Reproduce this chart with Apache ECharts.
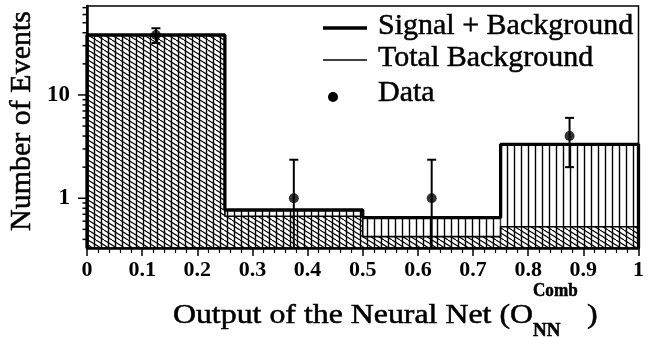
<!DOCTYPE html>
<html>
<head>
<meta charset="utf-8">
<script src="https://cdn.jsdelivr.net/npm/echarts@6/dist/echarts.min.js"></script>
<style>
  html, body { margin: 0; padding: 0; background: #fff; }
  #chart { width: 647px; height: 337px; }
</style>
</head>
<body>
<div id="chart"></div>
<script>
// Histogram bins of the network output
const binEdges = [0, 0.25, 0.5, 0.75, 1];
const signalPlusBackground = [38.1, 0.77, 0.65, 3.33];
const totalBackground = [37.4, 0.67, 0.425, 0.53];

// Observed events with their error bars
const dataX = [0.125, 0.375, 0.625, 0.875];
const dataY = [38, 1, 1, 4];
const errDown = [6.2, 1, 1, 2];
const errUp = [6.2, 1.36, 1.36, 2];

// Y axis range and tick values
const yMin = 0.33;
const yMax = 72.6;
const yLabelValues = [1, 10];
const yMinorTicks = [0.4, 0.5, 0.6, 0.7, 0.8, 0.9, 2, 3, 4, 5, 6, 7, 8, 9, 20, 30, 40, 50, 60, 70];

const SERIF = '"Liberation Serif", "Times New Roman", serif';

// Hatch fills: vertical lines for signal+background, slanted lines for background
function makeHatch(kind) {
  const c = document.createElement('canvas');
  const ctx = c.getContext('2d');
  ctx.strokeStyle = '#000';
  if (kind === 'vertical') {
    c.width = 7; c.height = 8;
    ctx.lineWidth = 1.4;
    ctx.beginPath();
    ctx.moveTo(3.5, 0); ctx.lineTo(3.5, 8);
    ctx.stroke();
  } else {
    c.width = 16; c.height = 10;
    ctx.lineWidth = 1.1;
    ctx.beginPath();
    for (let k = -3; k <= 3; k++) {
      ctx.moveTo(k * 8, 0);
      ctx.lineTo(k * 8 + 16, 10);
    }
    ctx.stroke();
  }
  return { image: c, repeat: 'repeat' };
}
const verticalHatch = makeHatch('vertical');
const slantHatch = makeHatch('slant');

function binData(values) {
  return values.map((v, i) => [binEdges[i], binEdges[i + 1], v]);
}
function stepOutline(values) {
  const pts = [[binEdges[0], yMin]];
  values.forEach((v, i) => {
    pts.push([binEdges[i], v]);
    pts.push([binEdges[i + 1], v]);
  });
  pts.push([binEdges[binEdges.length - 1], yMin]);
  return pts;
}
function hatchSeries(values, pattern) {
  return {
    type: 'custom',
    z: 1,
    clip: false,
    encode: { x: [0, 1], y: 2 },
    data: binData(values),
    renderItem: function (params, api) {
      const p0 = api.coord([api.value(0), yMin]);
      const p1 = api.coord([api.value(1), api.value(2)]);
      return {
        type: 'rect',
        shape: { x: p0[0], y: p1[1], width: p1[0] - p0[0], height: p0[1] - p1[1] },
        style: { fill: pattern, stroke: null }
      };
    }
  };
}
function label(text, x, y, font, extra) {
  return Object.assign({
    type: 'text', x: x, y: y, z: 10,
    style: { text: text, font: font, fill: '#000', stroke: '#000', lineWidth: 0.5, align: 'left', verticalAlign: 'middle' }
  }, extra || {});
}

const chart = echarts.init(document.getElementById('chart'), null, { renderer: 'canvas' });

const option = {
  animation: false,
  backgroundColor: '#fff',
  grid: {
    left: 87, right: 3, top: 6, bottom: 89,
    show: true, borderColor: '#000', borderWidth: 1.5, backgroundColor: 'transparent'
  },
  xAxis: {
    type: 'value',
    min: 0, max: 1, interval: 0.1,
    axisLine: { lineStyle: { color: '#000', width: 2.5 } },
    axisTick: { length: 8, lineStyle: { color: '#000', width: 1.5 } },
    minorTick: { show: true, splitNumber: 5, length: 5, lineStyle: { color: '#000', width: 1.2 } },
    splitLine: { show: false },
    axisLabel: { color: '#000', fontFamily: SERIF, fontWeight: 'bold', fontSize: 22, margin: 11 }
  },
  yAxis: {
    type: 'log', logBase: 10,
    min: yMin, max: yMax,
    axisLine: { lineStyle: { color: '#000', width: 2.5 } },
    axisTick: { show: false },
    splitLine: { show: false },
    axisLabel: {
      color: '#000', fontFamily: SERIF, fontWeight: 'bold', fontSize: 23, margin: 17,
      showMinLabel: false, showMaxLabel: false,
      formatter: function (v) {
        const hit = yLabelValues.find(t => Math.abs(v - t) / t < 1e-6);
        return hit !== undefined ? String(hit) : '';
      }
    }
  },
  series: [
    hatchSeries(signalPlusBackground, verticalHatch),
    hatchSeries(totalBackground, slantHatch),
    {
      name: 'Total Background',
      type: 'line', z: 3, clip: false, symbol: 'none',
      data: stepOutline(totalBackground),
      lineStyle: { color: '#000', width: 1.6 }
    },
    {
      name: 'Signal + Background',
      type: 'line', z: 3, clip: false, symbol: 'none',
      data: stepOutline(signalPlusBackground),
      lineStyle: { color: '#000', width: 3.3 }
    },
    {
      // y-axis ticks at decades and their subdivisions
      type: 'custom', z: 3, clip: false,
      encode: { x: 0, y: 1 },
      data: yLabelValues.map(v => [0, v, 9]).concat(yMinorTicks.map(v => [0, v, 4.5])),
      renderItem: function (params, api) {
        const p = api.coord([0, api.value(1)]);
        const len = api.value(2);
        return {
          type: 'line',
          shape: { x1: p[0] - len, y1: p[1], x2: p[0], y2: p[1] },
          style: { stroke: '#000', lineWidth: 1.5 }
        };
      }
    },
    {
      // error bars on the data
      type: 'custom', z: 4, clip: false,
      encode: { x: 0, y: 1 },
      data: dataX.map((x, i) => [x, dataY[i], dataY[i] - errDown[i], dataY[i] + errUp[i]]),
      renderItem: function (params, api) {
        const x = api.value(0);
        const lo = api.value(2), hi = api.value(3);
        const pHi = api.coord([x, hi]);
        const pLo = api.coord([x, Math.max(lo, yMin)]);
        const st = { stroke: '#000', lineWidth: 2 };
        const kids = [
          { type: 'line', shape: { x1: pHi[0], y1: pHi[1], x2: pLo[0], y2: pLo[1] }, style: st },
          { type: 'line', shape: { x1: pHi[0] - 4.5, y1: pHi[1], x2: pHi[0] + 4.5, y2: pHi[1] }, style: st }
        ];
        if (lo > yMin) {
          kids.push({ type: 'line', shape: { x1: pLo[0] - 4.5, y1: pLo[1], x2: pLo[0] + 4.5, y2: pLo[1] }, style: st });
        }
        return { type: 'group', children: kids };
      }
    },
    {
      name: 'Data',
      type: 'scatter', z: 5,
      symbol: 'circle', symbolSize: 10,
      itemStyle: { color: '#000' },
      data: dataX.map((x, i) => [x, dataY[i]])
    }
  ],
  graphic: [
    // legend
    { type: 'line', shape: { x1: 323, y1: 28, x2: 367, y2: 28 }, style: { stroke: '#000', lineWidth: 3.3 }, z: 10 },
    { type: 'line', shape: { x1: 323, y1: 60, x2: 367, y2: 60 }, style: { stroke: '#000', lineWidth: 1.6 }, z: 10 },
    { type: 'circle', shape: { cx: 333, cy: 97, r: 5 }, style: { fill: '#000' }, z: 10 },
    label('Signal + Background', 378, 26, '30px ' + SERIF),
    label('Total Background', 378, 58.5, '30px ' + SERIF),
    label('Data', 378, 93.5, '30px ' + SERIF),
    // y-axis title
    label('Number of Events', 22, 121, '30px ' + SERIF, { rotation: Math.PI / 2 }),
    // x-axis title with sub- and superscript
    label('Output of the Neural Net (O', 533, 315.5, '27px ' + SERIF, { scaleX: 1.18 }),
    label('Comb', 533, 291, 'bold 18px ' + SERIF, { scaleX: 0.95 }),
    label('NN', 533, 331, 'bold 19px ' + SERIF),
    label(')', 587, 315.5, '27px ' + SERIF, { scaleX: 1.18 })
  ]
};
// the y title is centred on its anchor
option.graphic[6].style.align = 'center';
option.graphic[7].style.align = 'right';

chart.setOption(option);
</script>
</body>
</html>
